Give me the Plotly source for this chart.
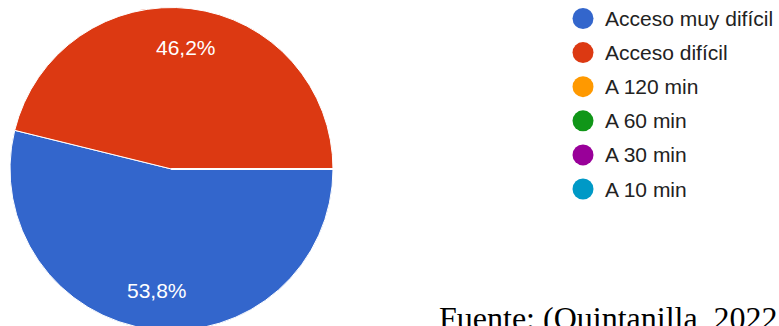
import math
import plotly.graph_objects as go

# ---- data ----
categories = ["Acceso muy difícil", "Acceso difícil", "A 120 min", "A 60 min", "A 30 min", "A 10 min"]
values = [7, 6, 0, 0, 0, 0]
colors = ["#3366cc", "#dc3912", "#ff9900", "#109618", "#990099", "#0099c6"]
caption = "Fuente: (Quintanilla, 2022"

W, H = 779, 340
cx, cy, r = 171.5, 169.0, 161.5   # pie centre / radius in px (from top)

fig = go.Figure()
fig.add_trace(go.Pie(
    labels=categories, values=values, sort=False, direction="clockwise",
    rotation=90, marker=dict(colors=colors, line=dict(color="white", width=1)),
    textinfo="none", hoverinfo="label+percent", showlegend=False,
    domain=dict(x=[(cx - r) / W, (cx + r) / W],
                y=[(H - cy - r) / H, (H - cy + r) / H]),
))

annotations = []
shapes = []
total = sum(values)
cum = 0
for lab, v in zip(categories, values):
    if v > 0:
        mid = math.radians(90 + 360 * (cum + v / 2) / total)
        x = cx + 0.76 * r * math.sin(mid)
        y = cy - 0.76 * r * math.cos(mid)
        pct = f"{100 * v / total:.1f}".replace(".", ",") + "%"
        annotations.append(dict(
            x=x / W, y=(H - y) / H, xref="paper", yref="paper", text=pct,
            showarrow=False, xanchor="center", yanchor="middle",
            font=dict(family="Liberation Sans, Arial", size=21, color="white")))
    cum += v

# legend drawn manually
lx, ly0, dy, lr = 583.0, 18.5, 34.1, 10.5
for i, (lab, col) in enumerate(zip(categories, colors)):
    yc = ly0 + dy * i
    shapes.append(dict(type="circle", xref="paper", yref="paper",
                       x0=(lx - lr) / W, x1=(lx + lr) / W,
                       y0=(H - yc - lr) / H, y1=(H - yc + lr) / H,
                       fillcolor=col, line=dict(width=0)))
    annotations.append(dict(
        x=603 / W, y=(H - yc) / H, xref="paper", yref="paper", text=lab,
        showarrow=False, xanchor="left", yanchor="middle",
        font=dict(family="Liberation Sans, Arial", size=21, color="#222222")))

annotations.append(dict(
    x=437 / W, y=(H - 318) / H, xref="paper", yref="paper", text=caption,
    showarrow=False, xanchor="left", yanchor="middle",
    font=dict(family="Liberation Serif, Times New Roman", size=32, color="black")))

fig.update_layout(
    width=W, height=H, margin=dict(l=0, r=0, t=0, b=0),
    paper_bgcolor="white", plot_bgcolor="white",
    separators=",.", annotations=annotations, shapes=shapes,
)

fig.write_html("out.html", post_script="document.body.style.overflow='hidden';document.body.style.margin='0';")
